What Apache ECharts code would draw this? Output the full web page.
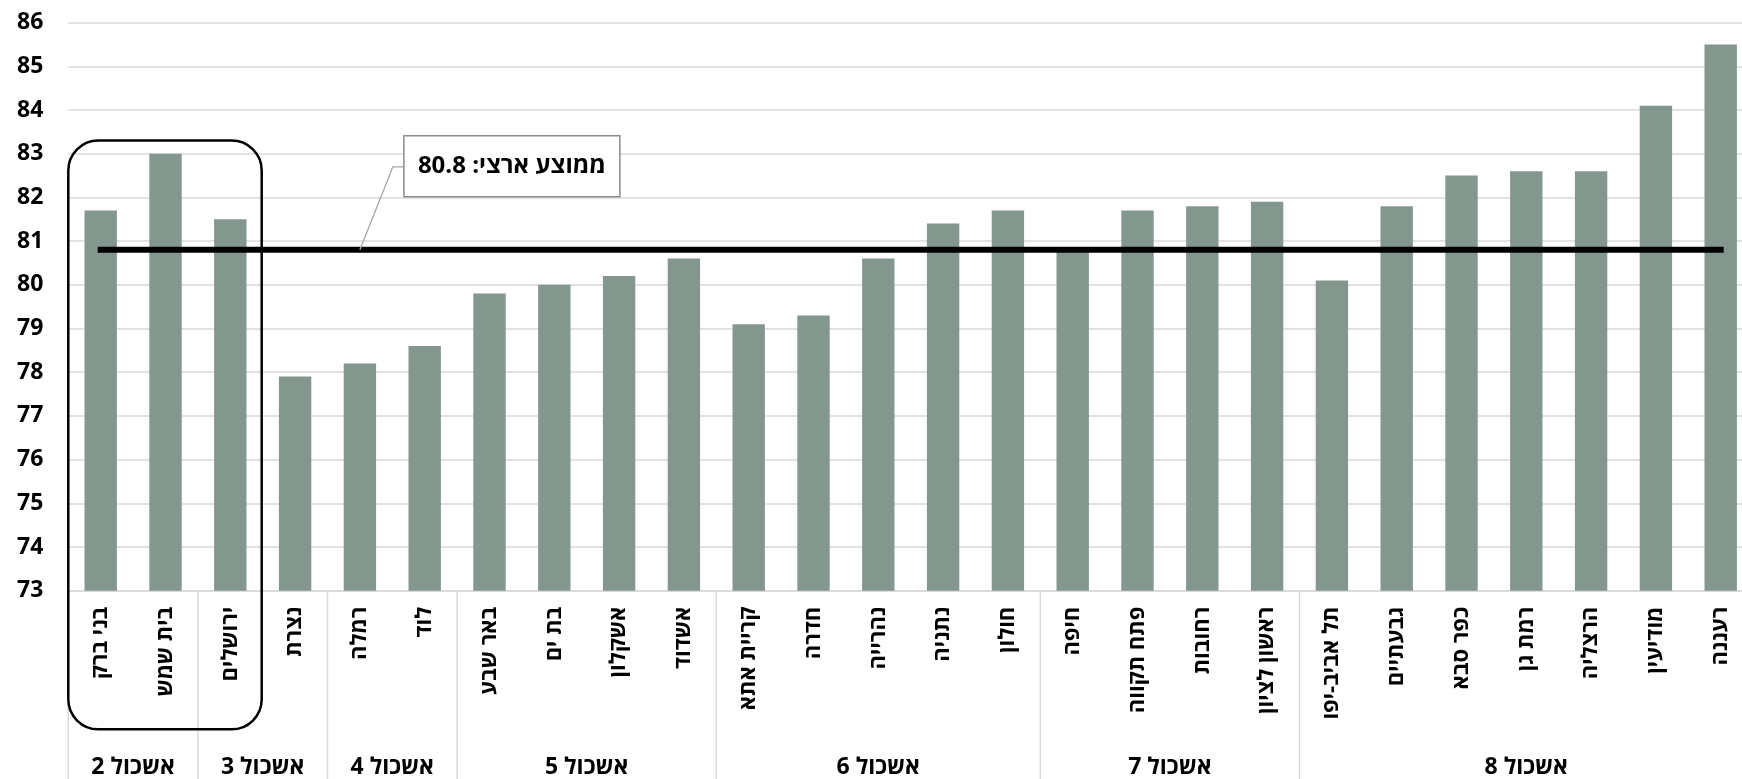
<!DOCTYPE html>
<html>
<head>
<meta charset="utf-8">
<script src="https://cdn.jsdelivr.net/npm/echarts@6/dist/echarts.min.js"></script>
<style>
  html, body { margin: 0; padding: 0; background: #ffffff; }
  #chart { width: 1742px; height: 779px; overflow: hidden; }
</style>
</head>
<body>
<div id="chart"></div>
<script>
// Life expectancy by city, grouped by socio-economic cluster
const cities = [
  'בני ברק', 'בית שמש', 'ירושלים', 'נצרת', 'רמלה', 'לוד',
  'באר שבע', 'בת ים', 'אשקלון', 'אשדוד',
  'קריית אתא', 'חדרה', 'נהרייה', 'נתניה', 'חולון',
  'חיפה', 'פתח תקווה', 'רחובות', 'ראשון לציון',
  'תל אביב-יפו', 'גבעתיים', 'כפר סבא', 'רמת גן', 'הרצליה', 'מודיעין', 'רעננה'
];
const lifeExpectancy = [
  81.7, 83.0, 81.5, 77.9, 78.2, 78.6,
  79.8, 80.0, 80.2, 80.6,
  79.1, 79.3, 80.6, 81.4, 81.7,
  80.8, 81.7, 81.8, 81.9,
  80.1, 81.8, 82.5, 82.6, 82.6, 84.1, 85.5
];
const clusterNames = ['אשכול 2', 'אשכול 3', 'אשכול 4', 'אשכול 5', 'אשכול 6', 'אשכול 7', 'אשכול 8'];
const clusterSizes = [2, 2, 2, 4, 5, 4, 7];
const nationalAverage = 80.8;
const avgLabel = 'ממוצע ארצי: ';
const yAxisTicks = [73, 74, 75, 76, 77, 78, 79, 80, 81, 82, 83, 84, 85, 86];

const FONT = "'Open Sans', 'DejaVu Sans', sans-serif";
const GRID_COLOR = '#d9d9d9';
const BAR_COLOR = '#84978e';

// cluster spans in category units [start, end, baseline]
const clusterSpans = [];
let acc = 0;
clusterSizes.forEach(n => { clusterSpans.push([acc, acc + n, yAxisTicks[0]]); acc += n; });

const chart = echarts.init(document.getElementById('chart'), null, { renderer: 'canvas' });

const option = {
  animation: false,
  // plot area runs slightly past the right edge of the canvas
  grid: {
    left: 68.3, top: 22.6, width: 1684.8, height: 568.1,
    containLabel: false, outerBoundsMode: 'none'
  },
  xAxis: {
    type: 'category',
    data: cities,
    axisLine: { show: true, lineStyle: { color: GRID_COLOR, width: 1.5 } },
    axisTick: { show: false },
    axisLabel: {
      interval: 0, rotate: 90, margin: 16,
      fontFamily: FONT, fontWeight: 'bold', fontSize: 22, color: '#000'
    },
    splitLine: { show: false }
  },
  yAxis: {
    type: 'value',
    min: yAxisTicks[0],
    max: yAxisTicks[yAxisTicks.length - 1],
    interval: 1,
    axisLine: { show: false },
    axisTick: { show: false },
    axisLabel: { margin: 25, fontFamily: FONT, fontWeight: 'bold', fontSize: 23, color: '#000' },
    splitLine: { lineStyle: { color: GRID_COLOR, width: 1.5 } }
  },
  series: [
    {
      type: 'bar',
      data: lifeExpectancy,
      barCategoryGap: '50%',
      itemStyle: { color: BAR_COLOR },
      z: 2
    },
    {
      // national average reference line
      type: 'line',
      data: cities.map(() => nationalAverage),
      symbol: 'none',
      lineStyle: { color: '#000', width: 6, cap: 'square' },
      z: 3
    },
    {
      // cluster separators and names beneath the city labels
      type: 'custom',
      clip: false,
      data: clusterSpans,
      renderItem: function (params, api) {
        const band = api.size([1, 0])[0];
        const origin = api.coord([0, api.value(2)]);
        const x0 = origin[0] - band / 2 + api.value(0) * band;
        const x1 = origin[0] - band / 2 + api.value(1) * band;
        const y = origin[1];
        return {
          type: 'group',
          children: [
            { type: 'line', shape: { x1: x0, y1: y, x2: x0, y2: y + 220 },
              style: { stroke: GRID_COLOR, lineWidth: 1.5 } },
            { type: 'text', x: (x0 + x1) / 2, y: y + 177,
              style: { text: clusterNames[params.dataIndex], fontFamily: FONT, fontWeight: 'bold',
                       fontSize: 23, fill: '#000', align: 'center', verticalAlign: 'middle' } }
          ]
        };
      },
      z: 1
    },
    {
      // rounded frame around the first three cities
      type: 'custom',
      clip: false,
      data: [[0, 3, 83.3]],
      renderItem: function (params, api) {
        const band = api.size([1, 0])[0];
        const origin = api.coord([0, api.value(2)]);
        const base = api.coord([0, yAxisTicks[0]]);
        const x0 = origin[0] - band / 2 + api.value(0) * band;
        const x1 = origin[0] - band / 2 + api.value(1) * band;
        return {
          type: 'rect',
          shape: { x: x0, y: origin[1], width: x1 - x0 - 1, height: base[1] - origin[1] + 138.6, r: 30 },
          style: { fill: 'none', stroke: '#000', lineWidth: 2.5 }
        };
      },
      z: 4
    },
    {
      // callout box pointing at the average line
      type: 'custom',
      clip: false,
      data: [[4, nationalAverage]],
      renderItem: function (params, api) {
        const p = api.coord([api.value(0), api.value(1)]);
        const bx = p[0] + 44, by = p[1] - 114, bw = 216, bh = 61;
        return {
          type: 'group',
          children: [
            { type: 'polyline',
              shape: { points: [[p[0], p[1]], [p[0] + 33, p[1] - 83], [bx, p[1] - 83]] },
              style: { stroke: '#a6a6a6', lineWidth: 1.3, fill: 'none' } },
            { type: 'rect', shape: { x: bx, y: by, width: bw, height: bh },
              style: { fill: '#fff', stroke: '#8c8c8c', lineWidth: 1.5 } },
            { type: 'text', x: bx + bw / 2, y: by + bh / 2,
              style: { text: avgLabel + nationalAverage.toFixed(1), fontFamily: FONT, fontWeight: 'bold',
                       fontSize: 24, fill: '#000', align: 'center', verticalAlign: 'middle' } }
          ]
        };
      },
      z: 5
    }
  ]
};

chart.setOption(option);
</script>
</body>
</html>
